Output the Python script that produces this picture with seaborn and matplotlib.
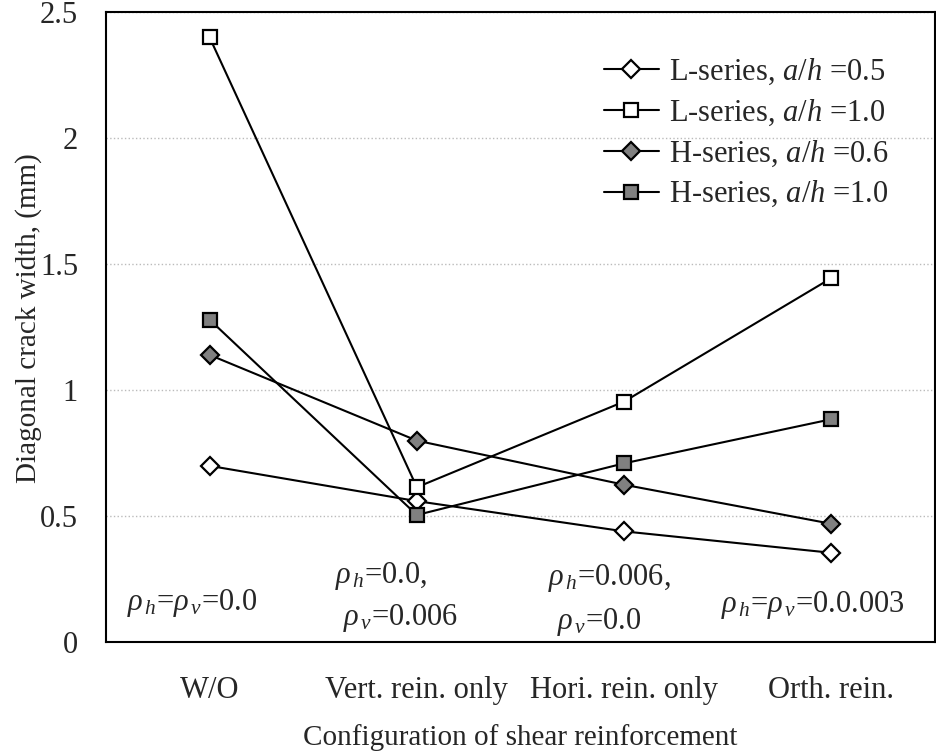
import numpy as np
import pandas as pd
import matplotlib
matplotlib.use('Agg')
import matplotlib.pyplot as plt
import seaborn as sns

# data
categories = ['W/O', 'Vert. rein. only', 'Hori. rein. only', 'Orth. rein.']
l_05 = [0.70, 0.56, 0.44, 0.355]
l_10 = [2.40, 0.615, 0.955, 1.445]
h_06 = [1.14, 0.80, 0.625, 0.47]
h_10 = [1.28, 0.505, 0.71, 0.885]
series_labels = [r'L-series, $a/h$ =0.5', r'L-series, $a/h$ =1.0',
                 r'H-series, $a/h$ =0.6', r'H-series, $a/h$ =1.0']
yticks = [0, 0.5, 1, 1.5, 2, 2.5]
ytick_labels = ['0', '0.5', '1', '1.5', '2', '2.5']

sns.set_style('white')
plt.rcParams['font.family'] = ['Liberation Serif', 'DejaVu Serif']
plt.rcParams['mathtext.fontset'] = 'custom'
plt.rcParams['mathtext.rm'] = 'Liberation Serif'
plt.rcParams['mathtext.it'] = 'Liberation Serif:italic'

fig = plt.figure(figsize=(9.37, 7.53), dpi=100)
ax = fig.add_axes([0.113, 0.147, 0.885, 0.837])

x = np.arange(len(categories))
styles = [('D', 'white'), ('s', 'white'), ('D', '#808080'), ('s', '#808080')]
for vals, lab, (mk, fc) in zip([l_05, l_10, h_06, h_10], series_labels, styles):
    df = pd.DataFrame({'x': x, 'y': vals})
    sns.lineplot(data=df, x='x', y='y', ax=ax, color='black', lw=1.5,
                 marker=mk, markersize=10 if mk == 's' else 9,
                 markerfacecolor=fc, markeredgecolor='black', markeredgewidth=1.6,
                 label=lab)

ax.set_xlim(-0.5, 3.5)
ax.set_ylim(0, 2.5)
ax.set_yticks(yticks)
ax.set_yticklabels(ytick_labels)
ax.yaxis.grid(True, color='#bbbbbb', ls=':', lw=1)
ax.set_axisbelow(True)

fs = 22
ax.set_xticks([0.5, 1.5, 2.5])
ax.set_xticklabels([])
ax.set_xticks(x, minor=True)
ax.set_xticklabels(categories, minor=True)
ax.tick_params(axis='x', which='major', direction='in', length=7, width=1.2)
ax.tick_params(axis='x', which='minor', length=0, pad=24, labelsize=fs)
ax.tick_params(axis='y', direction='in', length=5, width=1, pad=20, labelsize=fs)

for s in ax.spines.values():
    s.set_linewidth(1.5)
    s.set_color('black')

ax.set_xlabel('Configuration of shear reinforcement', fontsize=21, labelpad=14)
ax.set_ylabel('Diagonal crack width, (mm)', fontsize=21)
ax.yaxis.set_label_coords(-0.077, 0.514)

# reinforcement ratio notes
ax.text(-0.40, 0.155, r'$\rho_{\,h}$=$\rho_{\,v}$=0.0', fontsize=fs, va='center', ha='left')
ax.text(0.606, 0.262, r'$\rho_{\,h}$=0.0,', fontsize=fs, va='center', ha='left')
ax.text(0.645, 0.095, r'$\rho_{\,v}$=0.006', fontsize=fs, va='center', ha='left')
ax.text(1.635, 0.254, r'$\rho_{\,h}$=0.006,', fontsize=fs, va='center', ha='left')
ax.text(1.674, 0.079, r'$\rho_{\,v}$=0.0', fontsize=fs, va='center', ha='left')
ax.text(2.466, 0.147, r'$\rho_{\,h}$=$\rho_{\,v}$=0.0.003', fontsize=fs, va='center', ha='left')

ax.legend(loc='upper right', bbox_to_anchor=(0.966, 0.958), frameon=False, fontsize=fs,
          handlelength=1.8, handletextpad=0.33, labelspacing=0.34, borderaxespad=0.2)

fig.savefig('out.png', dpi=100)
